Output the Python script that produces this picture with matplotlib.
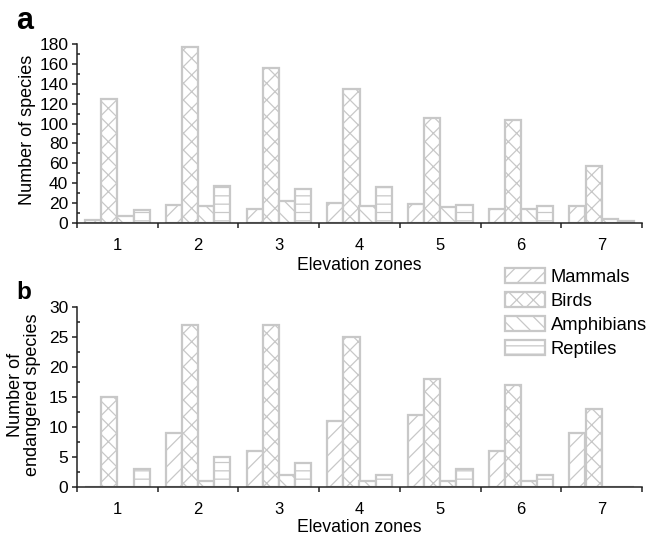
import matplotlib
matplotlib.use("Agg")
import matplotlib.pyplot as plt
import numpy as np
from matplotlib.ticker import FixedLocator, MultipleLocator
from matplotlib.patches import Patch

plt.rcParams['font.family'] = ['Liberation Sans', 'DejaVu Sans']
plt.rcParams['hatch.linewidth'] = 0.9

zones = [1, 2, 3, 4, 5, 6, 7]
groups = ["Mammals", "Birds", "Amphibians", "Reptiles"]
hatches = ["//", "xx", "\\\\", "--"]

# Panel a: number of species
mammals_a = [3, 18, 14, 20, 19, 14, 17]
birds_a = [125, 177, 156, 135, 106, 104, 57]
amphibians_a = [7, 17, 22, 17, 16, 14, 4]
reptiles_a = [13, 37, 34, 36, 18, 17, 2]

# Panel b: number of endangered species
mammals_b = [0, 9, 6, 11, 12, 6, 9]
birds_b = [15, 27, 27, 25, 18, 17, 13]
amphibians_b = [0, 1, 2, 1, 1, 1, 0]
reptiles_b = [3, 5, 4, 2, 3, 2, 0]

edge = '#c8c8c8'
axcol = '#222222'

fig = plt.figure(figsize=(6.46, 5.38), dpi=100)
W, H = 646, 538

def mkax(l, r, b, t):
    return fig.add_axes([l / W, 1 - b / H, (r - l) / W, (b - t) / H])

axa = mkax(77, 642, 223, 44)
axb = mkax(77, 642, 487, 307)

def draw(ax, series, ymax, major, minor, ylabel):
    x = np.array(zones, dtype=float)
    w = 0.2
    offs = [-0.3, -0.1, 0.1, 0.3]
    for vals, off, h in zip(series, offs, hatches):
        ax.bar(x + off, vals, width=w, facecolor='white', edgecolor=edge,
               hatch=h, linewidth=1.6, zorder=2)
    ax.set_xlim(0.5, 7.5)
    ax.set_ylim(0, ymax)
    for s in ['top', 'right']:
        ax.spines[s].set_visible(False)
    for s in ['left', 'bottom']:
        ax.spines[s].set_color(axcol)
        ax.spines[s].set_linewidth(1.1)
        ax.spines[s].set_zorder(3)
    ax.xaxis.set_major_locator(FixedLocator(np.arange(0.5, 8.0, 1.0)))
    ax.xaxis.set_minor_locator(FixedLocator(zones))
    ax.xaxis.set_major_formatter(plt.NullFormatter())
    ax.xaxis.set_minor_formatter(plt.FixedFormatter([str(z) for z in zones]))
    ax.tick_params(axis='x', which='major', direction='out', length=3.8,
                   width=1.1, color=axcol)
    ax.tick_params(axis='x', which='minor', direction='in', length=2.2,
                   width=1.1, color=axcol, labelsize=12, pad=10.5)
    ax.yaxis.set_major_locator(MultipleLocator(major))
    ax.yaxis.set_minor_locator(MultipleLocator(minor))
    ax.tick_params(axis='y', which='major', direction='out', length=3.8,
                   width=1.1, color=axcol, labelsize=12.5, pad=2.5)
    ax.tick_params(axis='y', which='minor', direction='in', length=2.2,
                   width=1.1, color=axcol)
    ax.set_xlabel('Elevation zones', fontsize=12.7)
    ax.set_ylabel(ylabel, fontsize=13, linespacing=1.0)
    return ax

draw(axa, [mammals_a, birds_a, amphibians_a, reptiles_a], 180, 20, 10,
     'Number of species')
draw(axb, [mammals_b, birds_b, amphibians_b, reptiles_b], 30, 5, 2.5,
     'Number of\nendangered species')

axa.xaxis.set_label_coords(0.5, -0.19)
axb.xaxis.set_label_coords(0.5, -0.18)
axa.yaxis.set_label_coords(-0.072, 0.52)
axb.yaxis.set_label_coords(-0.064, 0.51)

fig.text(16 / W, 1 - 29 / H, 'a', fontsize=22, fontweight='bold',
         ha='left', va='baseline')
fig.text(16 / W, 1 - 299 / H, 'b', fontsize=17.5, fontweight='bold',
         ha='left', va='baseline')

handles = [Patch(facecolor='white', edgecolor=edge, hatch=h, linewidth=1.6)
           for h in hatches]
fig.legend(handles, groups, loc='upper left',
           bbox_to_anchor=(505 / W, 1 - 268 / H), frameon=False,
           fontsize=13.2, handlelength=2.2, handleheight=0.85,
           handletextpad=0.3, labelspacing=0.35, borderpad=0,
           borderaxespad=0)

fig.savefig('out.png', dpi=100)
